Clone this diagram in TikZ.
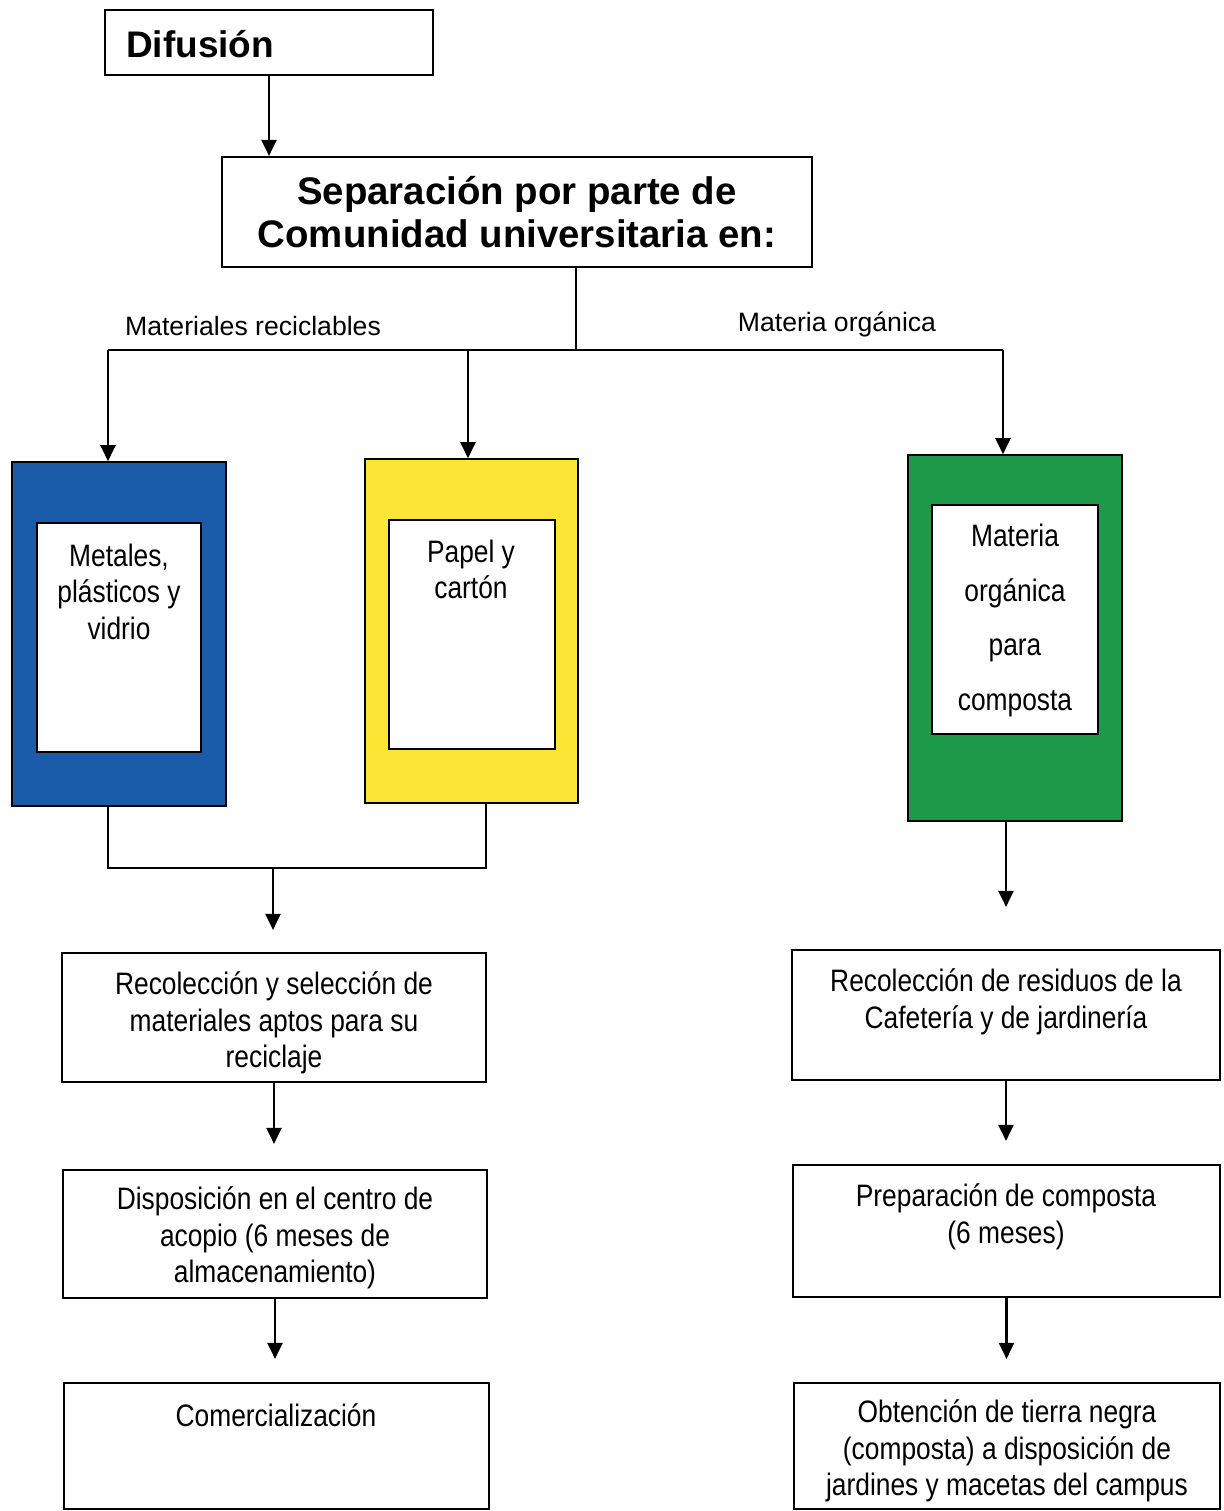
\documentclass[tikz,border=0pt]{standalone}
\usepackage{fontspec}
\setmainfont{Liberation Sans}
\newfontfamily\angosta{Liberation Sans}[FakeStretch=0.85]
\usetikzlibrary{arrows.meta}
\definecolor{azulbote}{RGB}{26,92,170}
\definecolor{amarillobote}{RGB}{252,230,52}
\definecolor{verdebote}{RGB}{28,154,74}

\begin{document}
\begin{tikzpicture}[x=0.5pt, y=-0.5pt, line width=1.1pt,
  caja/.style={draw, rectangle, inner sep=0pt},
  texto/.style={inner sep=0pt, align=center, anchor=north,
    font={\angosta\fontsize{15.5}{18.2}\selectfont}},
  bote/.style={draw, line width=0.8pt, inner sep=0pt, minimum width=107pt},
  ventana/.style={draw, fill=white, line width=0.8pt, inner sep=0pt,
    minimum width=82pt, minimum height=114.5pt},
  flecha/.style={-{Triangle[length=8pt, width=7.5pt]}},
  etiqueta/.style={inner sep=0pt, anchor=base, font=\fontsize{13.3}{16}\selectfont},
]
  \useasboundingbox (0,0) rectangle (1223,1511);

  % cabecera
  \node[caja, minimum width=164pt, minimum height=32.5pt] (dif) at (269,42.5) {};
  \node[inner sep=0pt, anchor=base west, font=\bfseries\fontsize{18.5}{22}\selectfont]
    (tdif) at (125,57) {Difusión};
  \node[caja, minimum width=295pt, minimum height=55pt, align=center,
    font=\bfseries\fontsize{19.2}{21.5}\selectfont] (sep) at (517,212)
    {Separación por parte de\\Comunidad universitaria en:};
  \draw[flecha] (dif.south) -- (dif.south |- sep.north);

  % reparto
  \coordinate (rama) at (576,350);
  \coordinate (rizq) at (108,350);
  \coordinate (rmed) at (468,350);
  \coordinate (rder) at (1003,350);
  \draw (sep.south -| rama) -- (rama);
  \draw (rizq) -- (rder);
  \node[etiqueta] (lrec) at (253,335) {Materiales reciclables};
  \node[etiqueta] (lorg) at (837,331) {Materia orgánica};

  % botes
  \node[bote, fill=azulbote, minimum height=172pt] (azul) at (119,634) {};
  \node[ventana] (vazul) at (119,637.5) {};
  \node[texto] (tazul) at (119,543) {Metales,\\plásticos y\\vidrio};

  \node[bote, fill=amarillobote, minimum width=106.5pt, minimum height=172pt]
    (amarillo) at (471.5,631) {};
  \node[ventana, minimum width=83pt] (vamarillo) at (472,634.5) {};
  \node[texto] (tamarillo) at (471,539) {Papel y\\cartón};

  \node[bote, fill=verdebote, minimum height=183pt] (verde) at (1015,638) {};
  \node[ventana, minimum width=83pt] (vverde) at (1015,619.5) {};
  \node[texto, font={\angosta\fontsize{15.5}{27.3}\selectfont}] (tverde) at (1015,523)
    {Materia\\orgánica\\para\\composta};

  \draw[flecha] (rizq) -- (rizq |- azul.north);
  \draw[flecha] (rmed) -- (rmed |- amarillo.north);
  \draw[flecha] (rder) -- (rder |- verde.north);

  % reciclables
  \coordinate (jizq) at (108,868);
  \coordinate (jder) at (486,868);
  \coordinate (jmed) at (273,868);
  \draw (jizq |- azul.south) -- (jizq) -- (jder) -- (jder |- amarillo.south);

  \node[caja, minimum width=212pt, minimum height=64.5pt] (recsel) at (274,1017.5) {};
  \node[texto] (trecsel) at (274,971)
    {Recolección y selección de\\materiales aptos para su\\reciclaje};
  \node[caja, minimum width=212pt, minimum height=64pt] (disp) at (275,1234) {};
  \node[texto] (tdisp) at (275,1186)
    {Disposición en el centro de\\acopio (6 meses de\\almacenamiento)};
  \node[caja, minimum width=212.5pt, minimum height=63pt] (com) at (276.5,1446) {};
  \node[texto] (tcom) at (276,1403) {Comercialización};

  \draw[flecha, shorten >=11pt] (jmed) -- (jmed |- recsel.north);
  \draw[flecha, shorten >=12.5pt] (recsel.south) -- (recsel.south |- disp.north);
  \draw[flecha, shorten >=11.5pt] (disp.south) -- (disp.south |- com.north);

  % organica
  \node[caja, minimum width=214pt, minimum height=65pt] (recres) at (1006,1015) {};
  \node[texto] (trecres) at (1006,968)
    {Recolección de residuos de la\\Cafetería y de jardinería};
  \node[caja, minimum width=213.5pt, minimum height=66pt] (prep) at (1006.5,1231) {};
  \node[texto] (tprep) at (1006,1183) {Preparación de composta\\(6 meses)};
  \node[caja, minimum width=213pt, minimum height=63pt] (obt) at (1007,1446) {};
  \node[texto] (tobt) at (1007,1399)
    {Obtención de tierra negra\\(composta) a disposición de\\jardines y macetas del campus};

  \draw[flecha, shorten >=21pt] (verde.south -| recres.north) -- (recres.north);
  \draw[flecha, shorten >=11.5pt] (recres.south) -- (recres.south |- prep.north);
  \draw[flecha, shorten >=11.5pt] (prep.south) -- (prep.south |- obt.north);
\end{tikzpicture}
\end{document}
